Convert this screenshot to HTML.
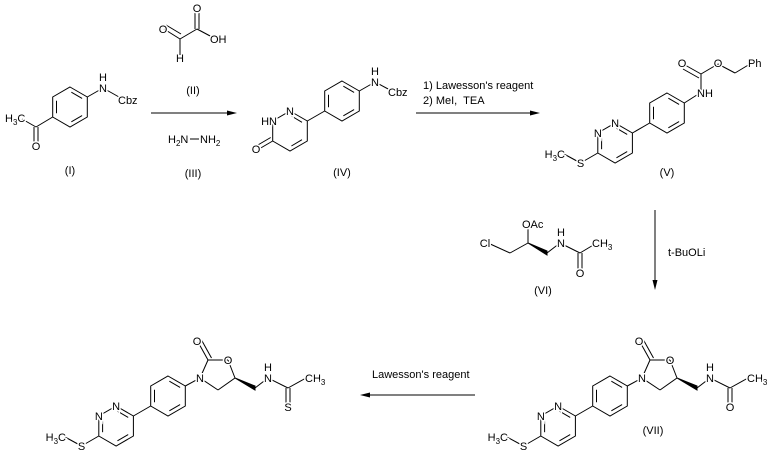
<!DOCTYPE html>
<html><head><meta charset="utf-8"><style>
html,body{margin:0;padding:0;background:#fff;width:767px;height:458px;overflow:hidden}
svg text{font-family:"Liberation Sans",sans-serif;font-size:11px;fill:#000}
.h{stroke:#fff;stroke-width:3;paint-order:stroke}
</style></head><body>
<svg width="767" height="458" viewBox="0 0 767 458" xmlns="http://www.w3.org/2000/svg">
<defs>
<g id="ring" stroke="#000" stroke-width="1" fill="none">
<polygon points="0,-20 17.3,-10 17.3,10 0,20 -17.3,10 -17.3,-10"/>
<line x1="1.35" y1="-14.8" x2="12.1" y2="-8.6"/>
<line x1="12.1" y1="8.6" x2="1.35" y2="14.8"/>
<line x1="-13.5" y1="6.2" x2="-13.5" y2="-6.2"/>
</g>
<!-- phenyl + pyridazine + SMe, phenyl center at origin -->
<g id="pp">
<use href="#ring"/>
<use href="#ring" x="-51.9" y="30"/>
<g stroke="#000" stroke-width="1">
<line x1="-17.3" y1="10" x2="-34.6" y2="20"/>
<line x1="-69.2" y1="40" x2="-86.5" y2="50"/>
<line x1="-86.5" y1="50" x2="-103" y2="41"/>
</g>
<text class="h" x="-51.9" y="14" text-anchor="middle">N</text>
<text class="h" x="-69.2" y="24" text-anchor="middle">N</text>
<text class="h" x="-86.5" y="54" text-anchor="middle">S</text>
<text class="h" x="-102" y="45" text-anchor="end">H<tspan dy="3" font-size="8">3</tspan><tspan dy="-3">C</tspan></text>
</g>
<!-- oxazolidinone part, relative to phenyl center -->
<g id="ox" stroke="#000" stroke-width="1">
<line x1="17.3" y1="-10" x2="32" y2="-18"/>
<line x1="32" y1="-18" x2="40" y2="-36"/>
<line x1="40" y1="-36" x2="30" y2="-54"/>
<line x1="43.5" y1="-38" x2="33.5" y2="-56"/>
<line x1="40" y1="-36" x2="60" y2="-36"/>
<line x1="60" y1="-36" x2="67" y2="-18"/>
<line x1="67" y1="-18" x2="50" y2="-6"/>
<line x1="50" y1="-6" x2="32" y2="-18"/>
<polygon points="67,-18 87,-6 87,-10" fill="#000"/>
<line x1="87" y1="-8" x2="100" y2="-18"/>
<line x1="100" y1="-18" x2="120" y2="-8"/>
<line x1="120" y1="-8" x2="138" y2="-18"/>
<line x1="118" y1="-8" x2="118" y2="11"/>
<line x1="122" y1="-8" x2="122" y2="11"/>
</g>
</defs>

<!-- Compound I -->
<use href="#ring" x="70" y="107"/>
<g stroke="#000" stroke-width="1">
<line x1="52.7" y1="117" x2="36" y2="127"/>
<line x1="36" y1="127" x2="22" y2="119"/>
<line x1="34" y1="127" x2="34" y2="143"/>
<line x1="38" y1="127" x2="38" y2="143"/>
<line x1="87.3" y1="97" x2="103" y2="88"/>
<line x1="103" y1="88" x2="119" y2="97"/>
</g>
<text class="h" x="5" y="122">H<tspan dy="3" font-size="8">3</tspan><tspan dy="-3">C</tspan></text>
<text class="h" x="36" y="150" text-anchor="middle">O</text>
<text class="h" x="103" y="92" text-anchor="middle">N</text>
<text x="103" y="81" text-anchor="middle">H</text>
<text class="h" x="118" y="104">Cbz</text>
<text x="70" y="174" text-anchor="middle">(I)</text>

<!-- Compound II -->
<g stroke="#000" stroke-width="1">
<line x1="164" y1="29" x2="180" y2="39"/>
<line x1="166" y1="25" x2="181" y2="34"/>
<line x1="180" y1="39" x2="197" y2="29"/>
<line x1="180" y1="39" x2="180" y2="55"/>
<line x1="195" y1="29" x2="195" y2="10"/>
<line x1="199" y1="29" x2="199" y2="10"/>
<line x1="197" y1="29" x2="212" y2="37"/>
</g>
<text class="h" x="163" y="33" text-anchor="middle">O</text>
<text class="h" x="197" y="12" text-anchor="middle">O</text>
<text class="h" x="210" y="43">OH</text>
<text class="h" x="180" y="62" text-anchor="middle">H</text>
<text x="193" y="94" text-anchor="middle">(II)</text>
<text x="168" y="143">H<tspan dy="3" font-size="8">2</tspan><tspan dy="-3">N</tspan></text>
<line x1="190" y1="139" x2="199" y2="139" stroke="#000"/>
<text x="200" y="143">NH<tspan dy="3" font-size="8">2</tspan></text>
<text x="193" y="177" text-anchor="middle">(III)</text>

<!-- Arrow 1 -->
<line x1="151" y1="113" x2="232" y2="113" stroke="#000"/>
<polygon points="237,113 227,110.5 227,115.5" fill="#000"/>

<!-- Compound IV -->
<g>
<use href="#ring" x="342" y="101"/>
<g stroke="#000" stroke-width="1" fill="none">
<polygon points="290,111 307.3,121 307.3,141 290,151 272.7,141 272.7,121"/>
<line x1="291.4" y1="116" x2="302" y2="122.3"/>
<line x1="302" y1="139.7" x2="291.4" y2="146"/>
<line x1="307.3" y1="121" x2="324.7" y2="111"/>
<line x1="272.7" y1="141" x2="259" y2="149"/>
<line x1="270.7" y1="137.5" x2="257" y2="145.5"/>
<line x1="359.3" y1="91" x2="375" y2="82"/>
<line x1="375" y1="82" x2="390" y2="90"/>
</g>
<text class="h" x="290" y="115" text-anchor="middle">N</text>
<text class="h" x="277" y="125" text-anchor="end">HN</text>
<text class="h" x="256" y="153" text-anchor="middle">O</text>
<text class="h" x="375" y="86" text-anchor="middle">N</text>
<text x="375" y="75" text-anchor="middle">H</text>
<text class="h" x="388" y="96">Cbz</text>
<text x="342" y="176" text-anchor="middle">(IV)</text>
</g>

<!-- Arrow 2 -->
<text x="423" y="89">1) Lawesson's reagent</text>
<text x="423" y="104">2) MeI,&#160; TEA</text>
<line x1="416" y1="113" x2="535" y2="113" stroke="#000"/>
<polygon points="540,113 530,110.5 530,115.5" fill="#000"/>

<!-- Compound V -->
<use href="#pp" x="667" y="113"/>
<g stroke="#000" stroke-width="1">
<line x1="684.3" y1="103" x2="700" y2="93"/>
<line x1="701" y1="93" x2="701" y2="74"/>
<line x1="701" y1="74" x2="685" y2="65"/>
<line x1="699" y1="78" x2="683" y2="69"/>
<line x1="701" y1="74" x2="718" y2="64"/>
<line x1="718" y1="64" x2="735" y2="73"/>
<line x1="735" y1="73" x2="750" y2="64"/>
</g>
<text class="h" x="697" y="97">NH</text>
<text class="h" x="682" y="67" text-anchor="middle">O</text>
<text class="h" x="718" y="67" text-anchor="middle">O</text>
<text class="h" x="748" y="67">Ph</text>
<text x="667" y="176" text-anchor="middle">(V)</text>

<!-- Arrow down -->
<line x1="655" y1="210" x2="655" y2="285" stroke="#000"/>
<polygon points="655,290 652.5,280 657.5,280" fill="#000"/>
<text x="668" y="256">t-BuOLi</text>

<!-- Compound VI -->
<g stroke="#000" stroke-width="1">
<line x1="488" y1="243" x2="510" y2="253"/>
<line x1="510" y1="253" x2="528" y2="243"/>
<line x1="528" y1="243" x2="528" y2="228"/>
<polygon points="528,243 547,251 547,255" fill="#000"/>
<line x1="547" y1="253" x2="560" y2="243"/>
<line x1="560" y1="243" x2="580" y2="253"/>
<line x1="580" y1="253" x2="595" y2="244"/>
<line x1="578" y1="253" x2="578" y2="270"/>
<line x1="582" y1="253" x2="582" y2="270"/>
</g>
<text class="h" x="485" y="247" text-anchor="middle">Cl</text>
<text class="h" x="522" y="228">OAc</text>
<text class="h" x="561" y="247" text-anchor="middle">N</text>
<text x="561" y="236" text-anchor="middle">H</text>
<text class="h" x="592" y="247">CH<tspan dy="3" font-size="8">3</tspan></text>
<text class="h" x="580" y="277" text-anchor="middle">O</text>
<text x="543" y="294" text-anchor="middle">(VI)</text>

<!-- Compound VII -->
<use href="#pp" x="610" y="396"/>
<use href="#ox" x="610" y="396"/>
<g transform="translate(610,396)">
<text class="h" x="32" y="-14" text-anchor="middle">N</text>
<text class="h" x="29" y="-51" text-anchor="middle">O</text>
<text class="h" x="60" y="-32" text-anchor="middle">O</text>
<text class="h" x="100" y="-14" text-anchor="middle">N</text>
<text x="100" y="-25" text-anchor="middle">H</text>
<text class="h" x="137" y="-14">CH<tspan dy="3" font-size="8">3</tspan></text>
<text class="h" x="120" y="15" text-anchor="middle">O</text>
</g>
<text x="653" y="434" text-anchor="middle">(VII)</text>

<!-- Arrow 3 -->
<text x="372" y="378">Lawesson's reagent</text>
<line x1="475" y1="395" x2="365" y2="395" stroke="#000"/>
<polygon points="360,395 370,392.5 370,397.5" fill="#000"/>

<!-- Final compound -->
<use href="#pp" x="168" y="396"/>
<use href="#ox" x="168" y="396"/>
<g transform="translate(168,396)">
<text class="h" x="32" y="-14" text-anchor="middle">N</text>
<text class="h" x="29" y="-51" text-anchor="middle">O</text>
<text class="h" x="60" y="-32" text-anchor="middle">O</text>
<text class="h" x="100" y="-14" text-anchor="middle">N</text>
<text x="100" y="-25" text-anchor="middle">H</text>
<text class="h" x="137" y="-14">CH<tspan dy="3" font-size="8">3</tspan></text>
<text class="h" x="120" y="15" text-anchor="middle">S</text>
</g>
</svg>
</body></html>
